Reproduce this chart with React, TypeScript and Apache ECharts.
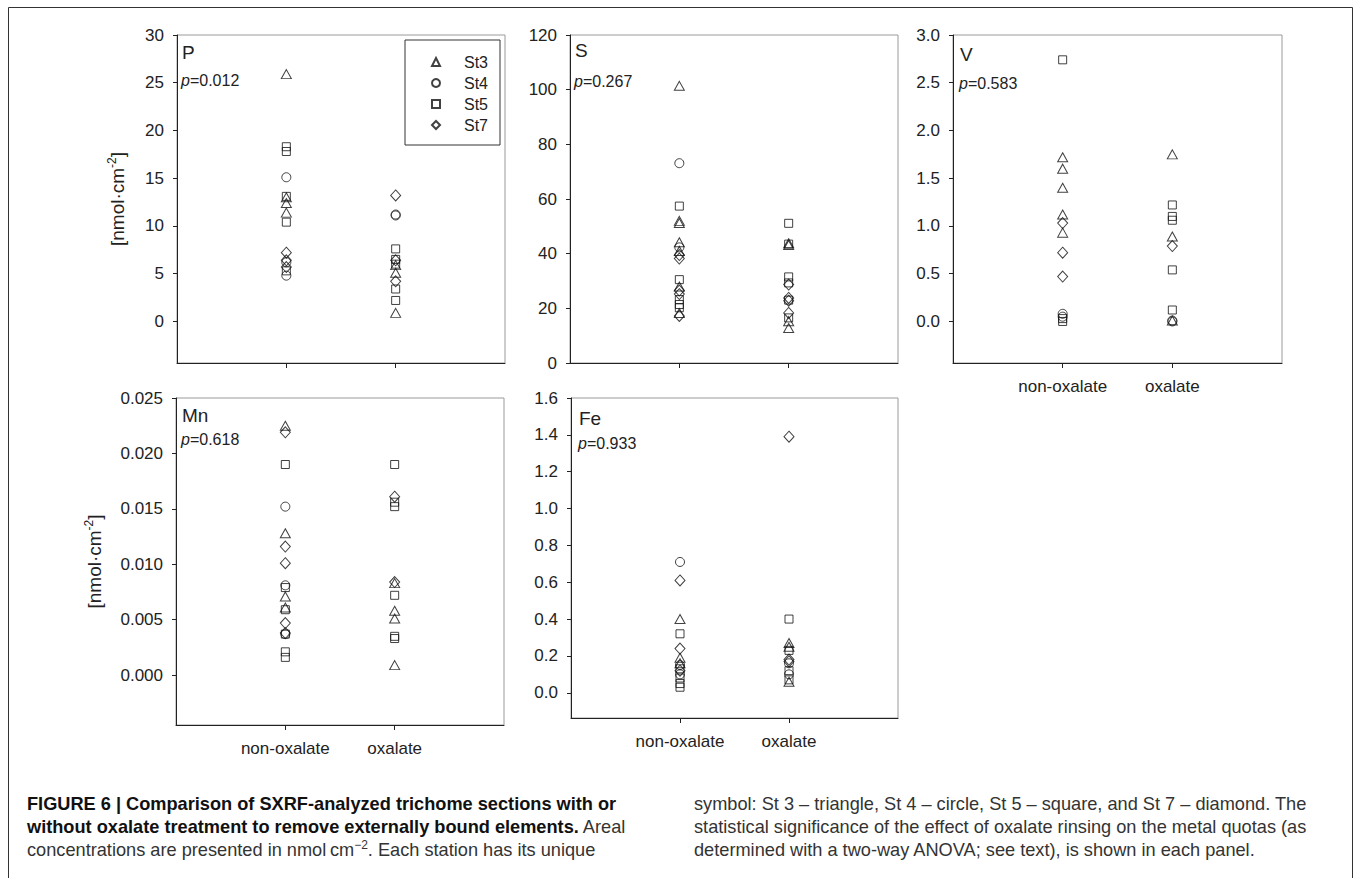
import React, { useEffect, useRef } from 'react';
import * as echarts from 'echarts';

const categories = ['non-oxalate', 'oxalate'];
const stations = ['St3', 'St4', 'St5', 'St7'];
const symbols = ['triangle', 'circle', 'rect', 'diamond'];

// P  [nmol cm-2]
const P_St3 = { non: [25.9, 13.0, 12.4, 11.4], ox: [5.9, 5.1, 0.9] };
const P_St4 = { non: [15.1, 6.2, 4.8], ox: [11.2, 11.1] };
const P_St5 = { non: [18.3, 17.8, 13.1, 10.4, 5.3], ox: [7.6, 6.5, 6.0, 3.4, 2.2] };
const P_St7 = { non: [7.2, 6.4, 5.7], ox: [13.2, 6.4, 4.2] };

// S
const S_St3 = { non: [101.4, 52.0, 51.2, 44.2, 41.0, 28.0, 18.3], ox: [43.8, 43.2, 15.3, 12.8] };
const S_St4 = { non: [73.1, 42.3], ox: [] as number[] };
const S_St5 = { non: [57.4, 30.5, 23.2, 21.4, 20.2], ox: [51.1, 43.5, 31.5, 29.3, 23.0, 16.5] };
const S_St7 = { non: [39.5, 38.2, 26.5, 25.2, 17.2], ox: [28.7, 23.8, 22.8, 18.3] };

// V
const V_St3 = { non: [1.72, 1.6, 1.4, 1.12, 0.93], ox: [1.75, 0.89, 0.01] };
const V_St4 = { non: [0.08, 0.05], ox: [0.0, 0.01] };
const V_St5 = { non: [2.74, 0.03, 0.0], ox: [1.22, 1.1, 1.06, 0.54, 0.12] };
const V_St7 = { non: [1.03, 0.72, 0.47], ox: [0.79] };

// Mn
const Mn_St3 = { non: [0.0225, 0.0128, 0.0071, 0.0061], ox: [0.0083, 0.0058, 0.0051, 0.0009] };
const Mn_St4 = { non: [0.0152, 0.0081, 0.0037], ox: [] as number[] };
const Mn_St5 = { non: [0.019, 0.0079, 0.0059, 0.0037, 0.0021, 0.0016], ox: [0.019, 0.0156, 0.0152, 0.0072, 0.0035, 0.0033] };
const Mn_St7 = { non: [0.0219, 0.0116, 0.0101, 0.0047, 0.0038], ox: [0.0161, 0.0084] };

// Fe
const Fe_St3 = { non: [0.4, 0.19, 0.16], ox: [0.27, 0.25, 0.06] };
const Fe_St4 = { non: [0.71, 0.15, 0.1], ox: [0.16, 0.1] };
const Fe_St5 = { non: [0.32, 0.13, 0.08, 0.05, 0.03], ox: [0.4, 0.23, 0.12, 0.07] };
const Fe_St7 = { non: [0.61, 0.24, 0.12], ox: [1.39, 0.18, 0.17] };

// tick labels
const P_ticks = [0, 5, 10, 15, 20, 25, 30];
const S_ticks = [0, 20, 40, 60, 80, 100, 120];
const V_ticks = [0, 0.5, 1.0, 1.5, 2.0, 2.5, 3.0];
const Mn_ticks = [0, 0.005, 0.01, 0.015, 0.02, 0.025];
const Fe_ticks = [0, 0.2, 0.4, 0.6, 0.8, 1.0, 1.2, 1.4, 1.6];

const pValues = ['0.012', '0.267', '0.583', '0.618', '0.933'];
const elements = ['P', 'S', 'V', 'Mn', 'Fe'];

const FONT = 'Liberation Sans, Arial, Helvetica, sans-serif';
const INK = '#222';

const panels = [
  { data: [P_St3, P_St4, P_St5, P_St7], ticks: P_ticks, dec: 0, min: -4.35, max: 30,
    grid: { left: 177, top: 35, width: 328, height: 328 }, showX: false, yName: true, nameGap: 49 },
  { data: [S_St3, S_St4, S_St5, S_St7], ticks: S_ticks, dec: 0, min: 0, max: 120,
    grid: { left: 570, top: 35, width: 328, height: 328 }, showX: false, yName: false, nameGap: 0 },
  { data: [V_St3, V_St4, V_St5, V_St7], ticks: V_ticks, dec: 1, min: -0.435, max: 3.0,
    grid: { left: 953, top: 35, width: 329, height: 328 }, showX: true, yName: false, nameGap: 0 },
  { data: [Mn_St3, Mn_St4, Mn_St5, Mn_St7], ticks: Mn_ticks, dec: 3, min: -0.0045, max: 0.025,
    grid: { left: 176, top: 398, width: 328, height: 327 }, showX: true, yName: true, nameGap: 71 },
  { data: [Fe_St3, Fe_St4, Fe_St5, Fe_St7], ticks: Fe_ticks, dec: 1, min: -0.137, max: 1.6,
    grid: { left: 571, top: 398, width: 327, height: 320 }, showX: true, yName: false, nameGap: 0 },
];

const labelPos = [
  { x: 182, y: 52.5, py: 80 },
  { x: 575, y: 50, py: 81.5 },
  { x: 960, y: 54, py: 83 },
  { x: 182, y: 415, py: 439 },
  { x: 579, y: 418, py: 443 },
];

const symbolSizes: any = { triangle: [10, 9], circle: 9, rect: 8, diamond: [10, 11] };

function buildOption() {
  const grid: any[] = [];
  const xAxis: any[] = [];
  const yAxis: any[] = [];
  const series: any[] = [];
  const graphic: any[] = [];

  panels.forEach((p, i) => {
    grid.push({ ...p.grid, show: true, borderColor: '#9a9a9a', borderWidth: 1, backgroundColor: 'transparent', outerBoundsMode: 'none' });
    xAxis.push({
      type: 'value', gridIndex: i, min: 0, max: 3, position: 'bottom',
      axisLine: { show: true, onZero: false, lineStyle: { color: INK, width: 1 } },
      axisTick: { show: true, inside: false, length: 5, customValues: [1, 2], lineStyle: { color: INK } },
      axisLabel: {
        show: p.showX, customValues: [1, 2], margin: 15, fontSize: 17, color: INK, fontFamily: FONT,
        formatter: (v: number) => categories[Math.round(v) - 1] || '',
      },
      splitLine: { show: false },
    });
    yAxis.push({
      type: 'value', gridIndex: i, min: p.min, max: p.max, position: 'left',
      axisLine: { show: true, onZero: false, lineStyle: { color: INK, width: 1 } },
      axisTick: { show: true, inside: false, length: 4, customValues: p.ticks, lineStyle: { color: INK } },
      axisLabel: {
        customValues: p.ticks, margin: 13, fontSize: 17, color: INK, fontFamily: FONT,
        formatter: (v: number) => v.toFixed(p.dec),
      },
      splitLine: { show: false },
      name: p.yName ? '{a|[nmol·cm}{s|-2}{a|]}' : '',
      nameLocation: 'middle', nameRotate: 90, nameGap: p.nameGap,
      nameTextStyle: {
        color: INK, fontFamily: FONT,
        rich: {
          a: { fontSize: 19, color: INK, fontFamily: FONT, lineHeight: 22 },
          s: { fontSize: 12, color: INK, fontFamily: FONT, lineHeight: 22, verticalAlign: 'top' },
        },
      },
    });
    p.data.forEach((st, k) => {
      const sym = symbols[k];
      series.push({
        type: 'scatter', name: stations[k], xAxisIndex: i, yAxisIndex: i,
        symbol: sym, symbolSize: symbolSizes[sym],
        itemStyle: { color: 'transparent', borderColor: '#111', borderWidth: 1 },
        emphasis: { disabled: true },
        data: [...st.non.map((v) => [1, v]), ...st.ox.map((v) => [2, v])],
      });
    });
    const lp = labelPos[i];
    graphic.push({
      type: 'text', x: lp.x, y: lp.y,
      style: { text: elements[i], font: `19px ${FONT}`, fill: INK, verticalAlign: 'middle', align: 'left' },
    });
    graphic.push({
      type: 'text', x: lp.x - 1, y: lp.py,
      style: {
        text: `{i|p}{n|=${pValues[i]}}`, verticalAlign: 'middle', align: 'left',
        rich: {
          i: { fontSize: 16, fontStyle: 'italic', fontFamily: FONT, fill: INK, color: INK },
          n: { fontSize: 16, fontFamily: FONT, fill: INK, color: INK },
        },
      },
    });
  });

  // figure frame
  graphic.push({
    type: 'rect', shape: { x: 8.5, y: 7.5, width: 1344, height: 900 },
    style: { fill: 'none', stroke: '#333', lineWidth: 1 }, silent: true,
  });

  // caption
  const capLeft = [
    '{b|FIGURE 6 | Comparison of SXRF-analyzed trichome sections with or}',
    '{b|without oxalate treatment to remove externally bound elements.}{n| Areal}',
    '{n|concentrations are presented in nmol\u2009cm}{s|\u22122}{n|. Each station has its unique}',
  ];
  const capRight = [
    'symbol: St 3 \u2013 triangle, St 4 \u2013 circle, St 5 \u2013 square, and St 7 \u2013 diamond. The',
    'statistical significance of the effect of oxalate rinsing on the metal quotas (as',
    'determined with a two-way ANOVA; see text), is shown in each panel.',
  ];
  const capY = [804, 827, 850];
  const CF = 18.2;
  const rich = {
    b: { fontSize: CF, fontWeight: 'bold', fontFamily: FONT, fill: '#111', color: '#111' },
    n: { fontSize: CF, fontFamily: FONT, fill: '#333', color: '#333' },
    s: { fontSize: 12, fontFamily: FONT, fill: '#333', color: '#333', verticalAlign: 'top', lineHeight: 22 },
  };
  capLeft.forEach((t, j) => {
    graphic.push({ type: 'text', x: 27, y: capY[j], style: { text: t, rich, verticalAlign: 'middle', align: 'left' } });
  });
  capRight.forEach((t, j) => {
    graphic.push({ type: 'text', x: 694, y: capY[j], style: { text: `{n|${t}}`, rich, verticalAlign: 'middle', align: 'left' } });
  });

  return {
    animation: false,
    backgroundColor: '#fff',
    textStyle: { fontFamily: FONT },
    grid, xAxis, yAxis, series, graphic,
    legend: {
      data: stations, orient: 'vertical', left: 405, top: 40,
      itemWidth: 8, itemHeight: 8, itemGap: 5,
      symbolKeepAspect: true,
      padding: [14, 12, 12, 26],
      borderColor: '#333', borderWidth: 1, backgroundColor: '#fff',
      textStyle: { fontSize: 16, color: INK, fontFamily: FONT, lineHeight: 16, padding: [0, 0, 0, 19] },
      selectedMode: false,
    },
  };
}

export default function App() {
  const ref = useRef<HTMLDivElement>(null);
  useEffect(() => {
    if (!ref.current) return;
    const chart = echarts.init(ref.current, null, { renderer: 'svg' });
    chart.setOption(buildOption() as any);
    return () => chart.dispose();
  }, []);
  return (
    <div
      ref={ref}
      style={{ position: 'fixed', left: 0, top: 0, width: 1356, height: 878, background: '#fff' }}
    />
  );
}
